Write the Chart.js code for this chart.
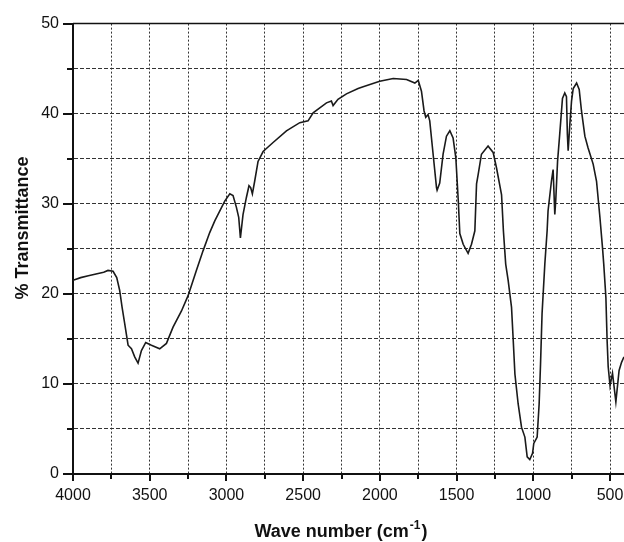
<!DOCTYPE html>
<html>
<head>
<meta charset="utf-8">
<script src="https://cdn.jsdelivr.net/npm/chart.js@4/dist/chart.umd.min.js"></script>
<style>
  html, body { margin: 0; padding: 0; background: #fff; }
  #wrap { width: 624px; height: 542px; }
</style>
</head>
<body>
<div id="wrap"><canvas id="irChart" width="624" height="542"></canvas></div>
<script>
// IR spectrum (wave number in cm-1, % transmittance)
var waveNumbers = [
  4000, 3950, 3900, 3850, 3800, 3772, 3739, 3715, 3696, 3680, 3663, 3641, 3619, 3598, 3576,
  3554, 3526, 3489, 3435, 3391, 3348, 3293, 3250, 3196, 3152, 3109, 3076, 3011, 2978, 2957,
  2935, 2920, 2909, 2892, 2870, 2853, 2842, 2831, 2816, 2794, 2761, 2696, 2609, 2522, 2468,
  2435, 2348, 2316, 2305, 2273, 2218, 2142, 2109, 2001, 1913, 1826, 1772, 1750, 1729, 1712,
  1701, 1686, 1675, 1653, 1631, 1627, 1610, 1588, 1566, 1544, 1523, 1505, 1489, 1479, 1457,
  1425, 1403, 1381, 1370, 1359, 1338, 1295, 1262, 1240, 1207, 1195, 1180, 1164, 1142, 1132,
  1120, 1099, 1077, 1055, 1040, 1023, 1005, 997, 975, 962, 953, 943, 925, 910, 904,
  882, 871, 860, 854, 842, 828, 810, 795, 784, 778, 773, 762, 751, 740, 718,
  701, 686, 664, 643, 610, 588, 566, 549, 541, 527, 519, 512, 500, 484, 462,
  441, 425, 409
];
var transmittance = [
  21.5, 21.8, 22.0, 22.2, 22.4, 22.6, 22.5, 21.8, 20.4, 18.5, 16.7, 14.3, 13.9, 13.0, 12.3,
  13.7, 14.6, 14.3, 13.9, 14.5, 16.3, 18.1, 19.8, 22.6, 24.8, 26.8, 28.1, 30.3, 31.1, 30.9,
  29.6, 28.5, 26.2, 28.8, 30.7, 32.0, 31.8, 31.1, 32.5, 34.7, 35.8, 36.8, 38.1, 39.0, 39.2,
  40.1, 41.2, 41.4, 40.9, 41.6, 42.2, 42.8, 43.0, 43.6, 43.9, 43.8, 43.4, 43.7, 42.5, 40.3,
  39.6, 39.9, 39.2, 35.5, 31.8, 31.5, 32.3, 35.5, 37.5, 38.1, 37.3, 35.1, 30.3, 26.7, 25.5,
  24.5, 25.5, 27.0, 32.2, 33.3, 35.5, 36.4, 35.7, 34.0, 31.0, 27.0, 23.3, 21.5, 18.5, 15.2,
  11.1, 7.8, 5.2, 4.1, 1.9, 1.6, 2.3, 3.4, 4.1, 7.8, 12.2, 17.8, 23.3, 27.0, 29.2,
  32.5, 33.8, 28.8, 30.3, 34.7, 37.7, 41.7, 42.3, 41.9, 37.7, 35.9, 38.8, 41.4, 42.8, 43.4,
  42.7, 40.3, 37.5, 36.2, 34.4, 32.5, 28.5, 25.1, 23.3, 19.6, 14.8, 11.9, 9.8, 11.2, 8.0,
  11.5, 12.4, 13.0
];
var xTickValues = [500, 750, 1000, 1250, 1500, 1750, 2000, 2250, 2500, 2750, 3000, 3250, 3500, 3750, 4000];
var yTickValues = [0, 5, 10, 15, 20, 25, 30, 35, 40, 45, 50];

var points = waveNumbers.map(function(w, i) { return {x: w, y: transmittance[i]}; });

var titleFont = 'bold 18px "Liberation Sans", Arial, sans-serif';
var supFont = 'bold 12px "Liberation Sans", Arial, sans-serif';

// tick marks (long for labelled, short for minor), top frame line and axis titles
var frameMarks = {
  id: 'frameMarks',
  afterDraw: function(chart) {
    var ctx = chart.ctx, a = chart.chartArea;
    var xs = chart.scales.x, ys = chart.scales.y;
    ctx.save();
    ctx.strokeStyle = '#111';
    ctx.lineWidth = 1.5;
    ctx.beginPath();
    ctx.moveTo(a.left, a.top);
    ctx.lineTo(a.right, a.top);
    ctx.stroke();

    ctx.lineWidth = 2;
    ctx.beginPath();
    xTickValues.forEach(function(v) {
      var px = Math.round(xs.getPixelForValue(v));
      var len = v % 500 === 0 ? 7 : 5;
      ctx.moveTo(px, a.bottom);
      ctx.lineTo(px, a.bottom + len);
    });
    yTickValues.forEach(function(v) {
      var py = Math.round(ys.getPixelForValue(v));
      var len = v % 10 === 0 ? 10 : 6;
      ctx.moveTo(a.left, py);
      ctx.lineTo(a.left - len, py);
    });
    ctx.stroke();

    // x title with a real superscript
    ctx.fillStyle = '#111';
    ctx.textBaseline = 'alphabetic';
    ctx.textAlign = 'left';
    var part1 = 'Wave number (cm', sup = '-1', part2 = ')';
    ctx.font = titleFont;
    var w1 = ctx.measureText(part1).width, w3 = ctx.measureText(part2).width;
    ctx.font = supFont;
    var w2 = ctx.measureText(sup).width;
    var x0 = 340 - (w1 + w2 + w3) / 2, base = 537;
    ctx.font = titleFont;
    ctx.fillText(part1, x0, base);
    ctx.font = supFont;
    ctx.fillText(sup, x0 + w1 + 1, base - 8);
    ctx.font = titleFont;
    ctx.fillText(part2, x0 + w1 + w2 + 2, base);

    ctx.textAlign = 'center';
    ctx.textBaseline = 'middle';
    ctx.translate(23, 228);
    ctx.rotate(-Math.PI / 2);
    ctx.fillText('% Transmittance', 0, 0);
    ctx.restore();
  }
};

new Chart(document.getElementById('irChart'), {
  type: 'line',
  data: {
    datasets: [{
      data: points,
      borderColor: '#1a1a1a',
      borderWidth: 1.6,
      pointRadius: 0,
      tension: 0,
      fill: false
    }]
  },
  options: {
    responsive: false,
    animation: false,
    layout: { padding: { top: 22, right: 0, left: 0, bottom: 0 } },
    plugins: {
      legend: { display: false },
      tooltip: { enabled: false }
    },
    scales: {
      x: {
        type: 'linear',
        reverse: true,
        min: 409,
        max: 4000,
        afterBuildTicks: function(scale) {
          scale.ticks = xTickValues.map(function(v) { return {value: v}; });
        },
        afterFit: function(scale) { scale.height = 68; },
        ticks: {
          autoSkip: false,
          maxRotation: 0,
          padding: 12,
          color: '#111',
          font: { family: '"Liberation Sans", Arial, sans-serif', size: 16 },
          callback: function(v) { return v % 500 === 0 ? String(v) : ''; }
        },
        grid: { color: '#333', lineWidth: 1, drawTicks: false },
        border: { display: true, color: '#111', width: 2, dash: [2, 2] }
      },
      y: {
        min: 0,
        max: 50,
        afterBuildTicks: function(scale) {
          scale.ticks = yTickValues.map(function(v) { return {value: v}; });
        },
        afterFit: function(scale) { scale.width = 73; },
        ticks: {
          padding: 14,
          color: '#111',
          font: { family: '"Liberation Sans", Arial, sans-serif', size: 16 },
          callback: function(v) { return v % 10 === 0 ? String(v) : ''; }
        },
        grid: { color: '#333', lineWidth: 1, drawTicks: false },
        border: { display: true, color: '#111', width: 2, dash: [4, 2] }
      }
    }
  },
  plugins: [frameMarks]
});
</script>
</body>
</html>
